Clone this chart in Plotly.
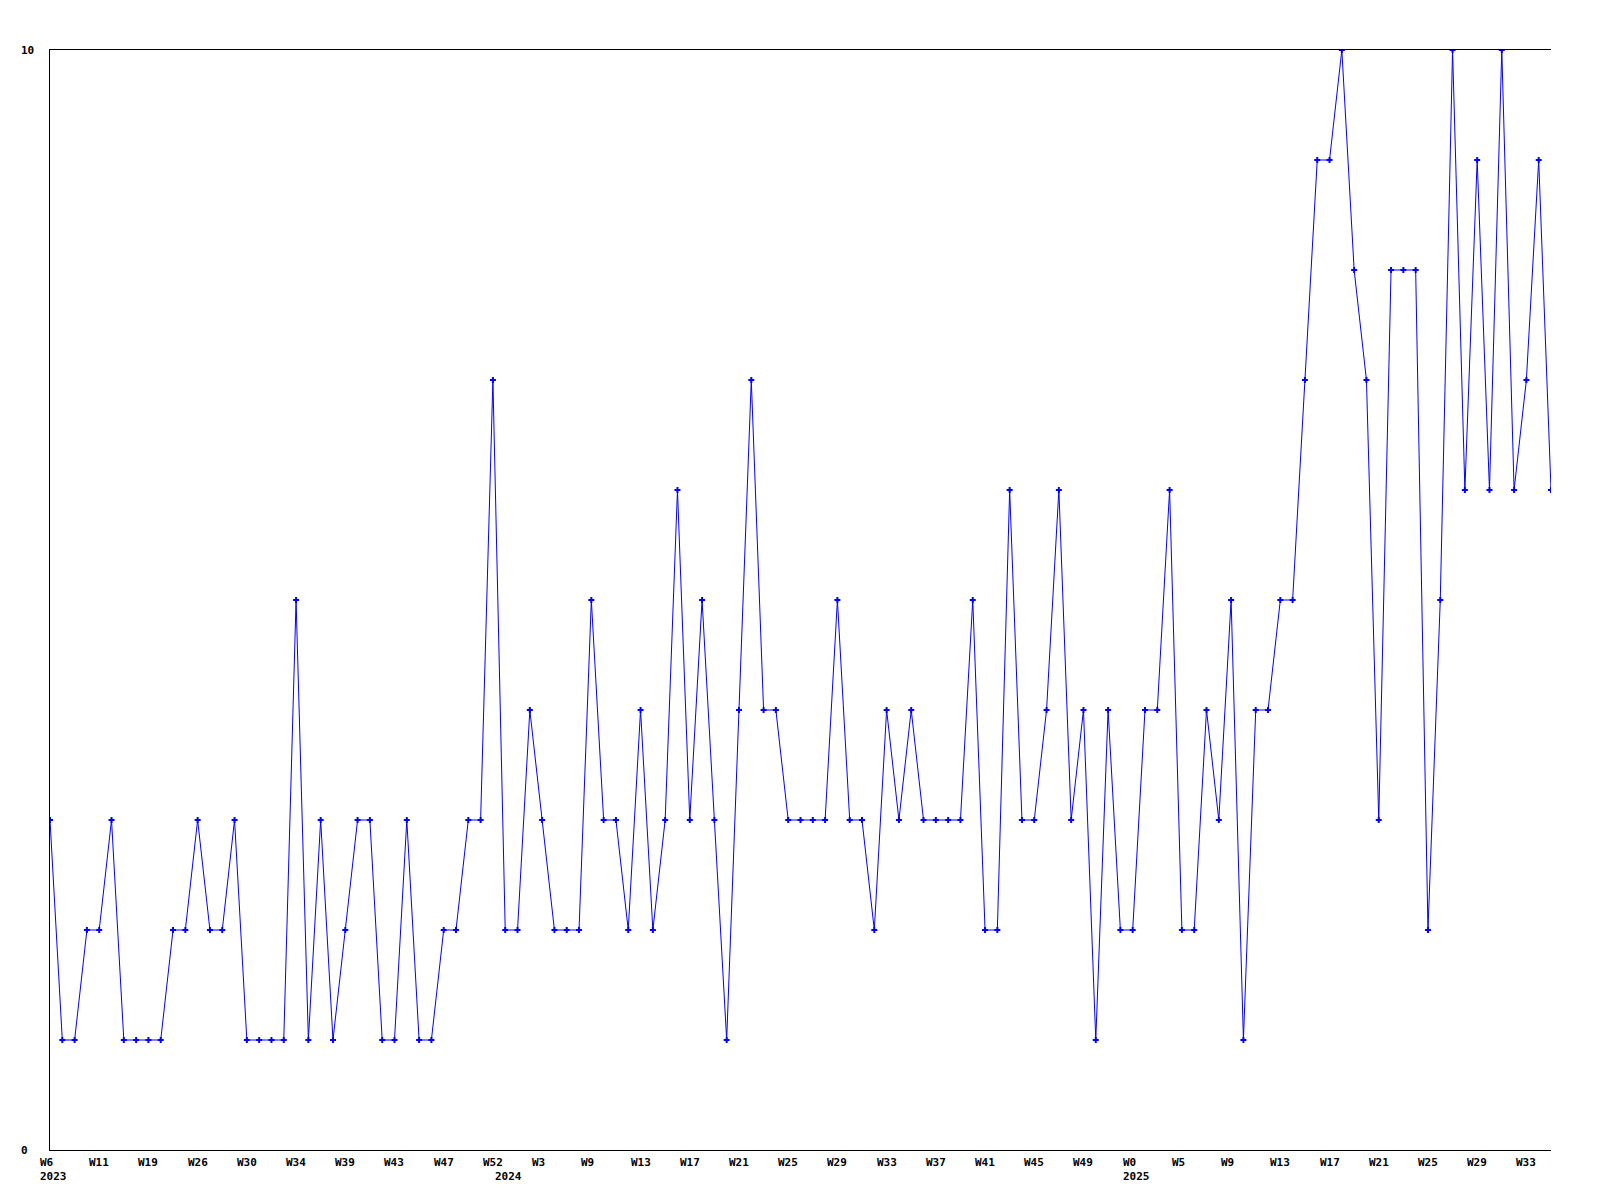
import plotly.graph_objects as go

# weekly values (one per category slot)
values = [3, 1, 1, 2, 2, 3, 1, 1, 1, 1,
          2, 2, 3, 2, 2, 3, 1, 1, 1, 1,
          5, 1, 3, 1, 2, 3, 3, 1, 1, 3,
          1, 1, 2, 2, 3, 3, 7, 2, 2, 4,
          3, 2, 2, 2, 5, 3, 3, 2, 4, 2,
          3, 6, 3, 5, 3, 1, 4, 7, 4, 4,
          3, 3, 3, 3, 5, 3, 3, 2, 4, 3,
          4, 3, 3, 3, 3, 5, 2, 2, 6, 3,
          3, 4, 6, 3, 4, 1, 4, 2, 2, 4,
          4, 6, 2, 2, 4, 3, 5, 1, 4, 4,
          5, 5, 7, 9, 9, 10, 8, 7, 3, 8,
          8, 8, 2, 5, 10, 6, 9, 6, 10, 6,
          7, 9, 6]
slots = list(range(len(values)))

# tick labels (every 4th slot)
tick_labels = ["W6", "W11", "W19", "W26", "W30", "W34", "W39", "W43", "W47", "W52",
               "W3", "W9", "W13", "W17", "W21", "W25", "W29", "W33", "W37", "W41",
               "W45", "W49", "W0", "W5", "W9", "W13", "W17", "W21", "W25", "W29", "W33"]
tick_step = 4
year_labels = ["2023", "2024", "2025"]
year_slots = [0, 37, 88]
y_labels = ["0", "10"]
y_label_vals = [0, 10]

FONT = dict(family="DejaVu Sans Mono", size=11, color="black")

fig = go.Figure()
fig.add_trace(go.Scatter(
    x=slots, y=values, mode="lines+markers",
    line=dict(color="#0000ff", width=1),
    marker=dict(color="#0000ff", symbol="cross", size=5),
    showlegend=False, hoverinfo="skip",
))

annotations = []
for k, lab in enumerate(tick_labels):
    annotations.append(dict(
        x=k * tick_step, xref="x", y=0, yref="paper",
        text="<b>" + lab + "</b>", showarrow=False,
        xanchor="left", yanchor="middle", xshift=-11, yshift=-12,
        borderpad=0, font=FONT,
    ))
for s, lab in zip(year_slots, year_labels):
    annotations.append(dict(
        x=s, xref="x", y=0, yref="paper",
        text="<b>" + lab + "</b>", showarrow=False,
        xanchor="left", yanchor="middle", xshift=-11, yshift=-26.5,
        borderpad=0, font=FONT,
    ))
for v, lab in zip(y_label_vals, y_labels):
    annotations.append(dict(
        x=0, xref="paper", y=v, yref="y",
        text="<b>" + lab + "</b>", showarrow=False,
        xanchor="left", yanchor="middle", xshift=-30,
        borderpad=0, font=FONT,
    ))

fig.update_layout(
    width=1584, height=1184,
    margin=dict(l=42, r=41, t=42, b=42),
    paper_bgcolor="white", plot_bgcolor="white",
    xaxis=dict(range=[0, len(values) - 1], showgrid=False, zeroline=False,
               showline=True, mirror=True, linecolor="black", linewidth=1,
               showticklabels=False, ticks=""),
    yaxis=dict(range=[0, 10], showgrid=False, zeroline=False,
               showline=True, mirror=False, linecolor="black", linewidth=1,
               showticklabels=False, ticks=""),
    annotations=annotations,
)

fig.write_html("out.html")
